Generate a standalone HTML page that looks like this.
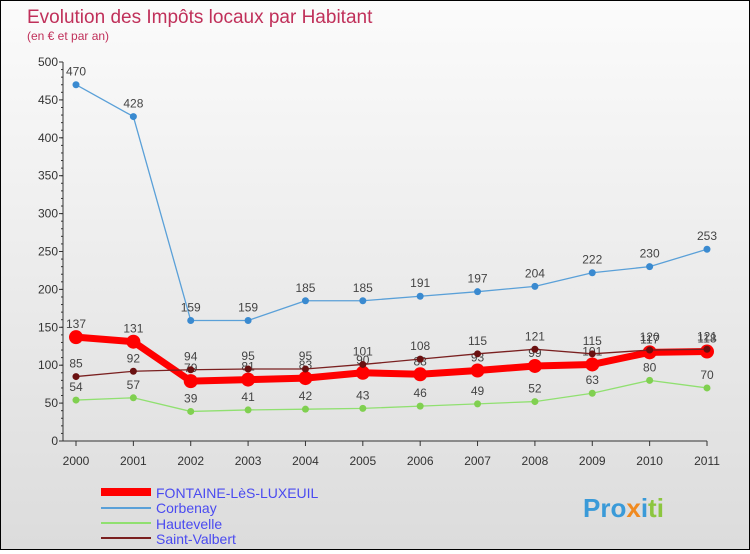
<!DOCTYPE html>
<html><head><meta charset="utf-8"><style>
body{margin:0;width:750px;height:550px;overflow:hidden;font-family:"Liberation Sans",sans-serif}
#c{position:absolute;left:0;top:0;width:748px;height:548px;border:1px solid #000;background:linear-gradient(#fbfbfb,#dcdcdc)}
</style></head><body>
<div id="c">
<svg id="s" width="748" height="548">
<text x="26" y="22" font-size="19" fill="#c0305a">Evolution des Impôts locaux par Habitant</text>
<text x="26" y="39" font-size="12" fill="#c0305a">(en € et par an)</text>
<g id="ax"></g><g id="series"></g>
<g>
<rect x="100" y="487" width="50" height="8" fill="#f00"/>
<text x="155" y="497" font-size="14" fill="#4a4af0">FONTAINE-LèS-LUXEUIL</text>
<line x1="100" y1="507" x2="150" y2="507" stroke="#5aa0d8" stroke-width="2"/>
<text x="155" y="512" font-size="14" fill="#4a4af0">Corbenay</text>
<line x1="100" y1="522" x2="150" y2="522" stroke="#90e070" stroke-width="2"/>
<text x="155" y="528" font-size="14" fill="#4a4af0">Hautevelle</text>
<line x1="100" y1="537" x2="150" y2="537" stroke="#7a2020" stroke-width="2"/>
<text x="155" y="543" font-size="14" fill="#4a4af0">Saint-Valbert</text>
</g>
<text x="582" y="516" font-size="26" font-weight="bold" fill="#3a9ad8">Pro<tspan fill="#f08a20">x</tspan><tspan fill="#3a9ad8">i</tspan><tspan fill="#8cc63f">ti</tspan></text>
</svg></div>
<script>
const years=["2000","2001","2002","2003","2004","2005","2006","2007","2008","2009","2010","2011"];
const fontaine=[137,131,79,81,83,90,88,93,99,101,117,118];
const corbenay=[470,428,159,159,185,185,191,197,204,222,230,253];
const hautevelle=[54,57,39,41,42,43,46,49,52,63,80,70];
const saintValbert=[85,92,94,95,95,101,108,115,121,115,120,121];
const yTicks=[0,50,100,150,200,250,300,350,400,450,500];
const NS="http://www.w3.org/2000/svg";
const X=i=>75+i*(706-75)/11, Y=v=>440-v*(379/500);
function mk(t,a,p){const e=document.createElementNS(NS,t);for(const k in a)e.setAttribute(k,a[k]);p.appendChild(e);return e;}
const ax=document.getElementById('ax');
let l=mk('line',{x1:62,y1:Y(500),x2:62,y2:440,stroke:'#333'},ax);

l=mk('line',{x1:62,y1:440,x2:706,y2:440,stroke:'#333'},ax);

yTicks.forEach(v=>{const t=mk('text',{x:57,y:Y(v)+4,'font-size':12,fill:'#333','text-anchor':'end'},ax);t.textContent=v;

mk('line',{x1:58,y1:Y(v),x2:62,y2:Y(v),stroke:'#333'},ax);});
for(let v=0;v<500;v+=10)mk('line',{x1:60,y1:Y(v),x2:62,y2:Y(v),stroke:'#333'},ax);
years.forEach((y,i)=>{const t=mk('text',{x:X(i),y:464,'font-size':12,fill:'#333','text-anchor':'middle'},ax);t.textContent=y;

mk('line',{x1:X(i),y1:440,x2:X(i),y2:445,stroke:'#333'},ax);});
const sg=document.getElementById('series');
function draw(name,d,col,w,r,mc){const g=mk('g',{},sg);
const p=mk('polyline',{points:d.map((v,i)=>X(i)+','+Y(v)).join(' '),fill:'none',stroke:col,'stroke-width':w,'stroke-linejoin':'round'},g);

d.forEach((v,i)=>{const c=mk('circle',{cx:X(i),cy:Y(v),r:r,fill:mc},g);
const t=mk('text',{x:X(i),y:Y(v)-9,'font-size':12,fill:'#444','text-anchor':'middle'},g);t.textContent=v;
});}
draw('corbenay',corbenay,'#5aa0d8',1.3,3.5,'#3a8ad0');
draw('hautevelle',hautevelle,'#90e070',1.3,3.5,'#80d050');
draw('fontaine',fontaine,'#f00',7,7,'#f00');
draw('saint-valbert',saintValbert,'#7a2020',1.3,3.5,'#6a1010');
</script></body></html>
